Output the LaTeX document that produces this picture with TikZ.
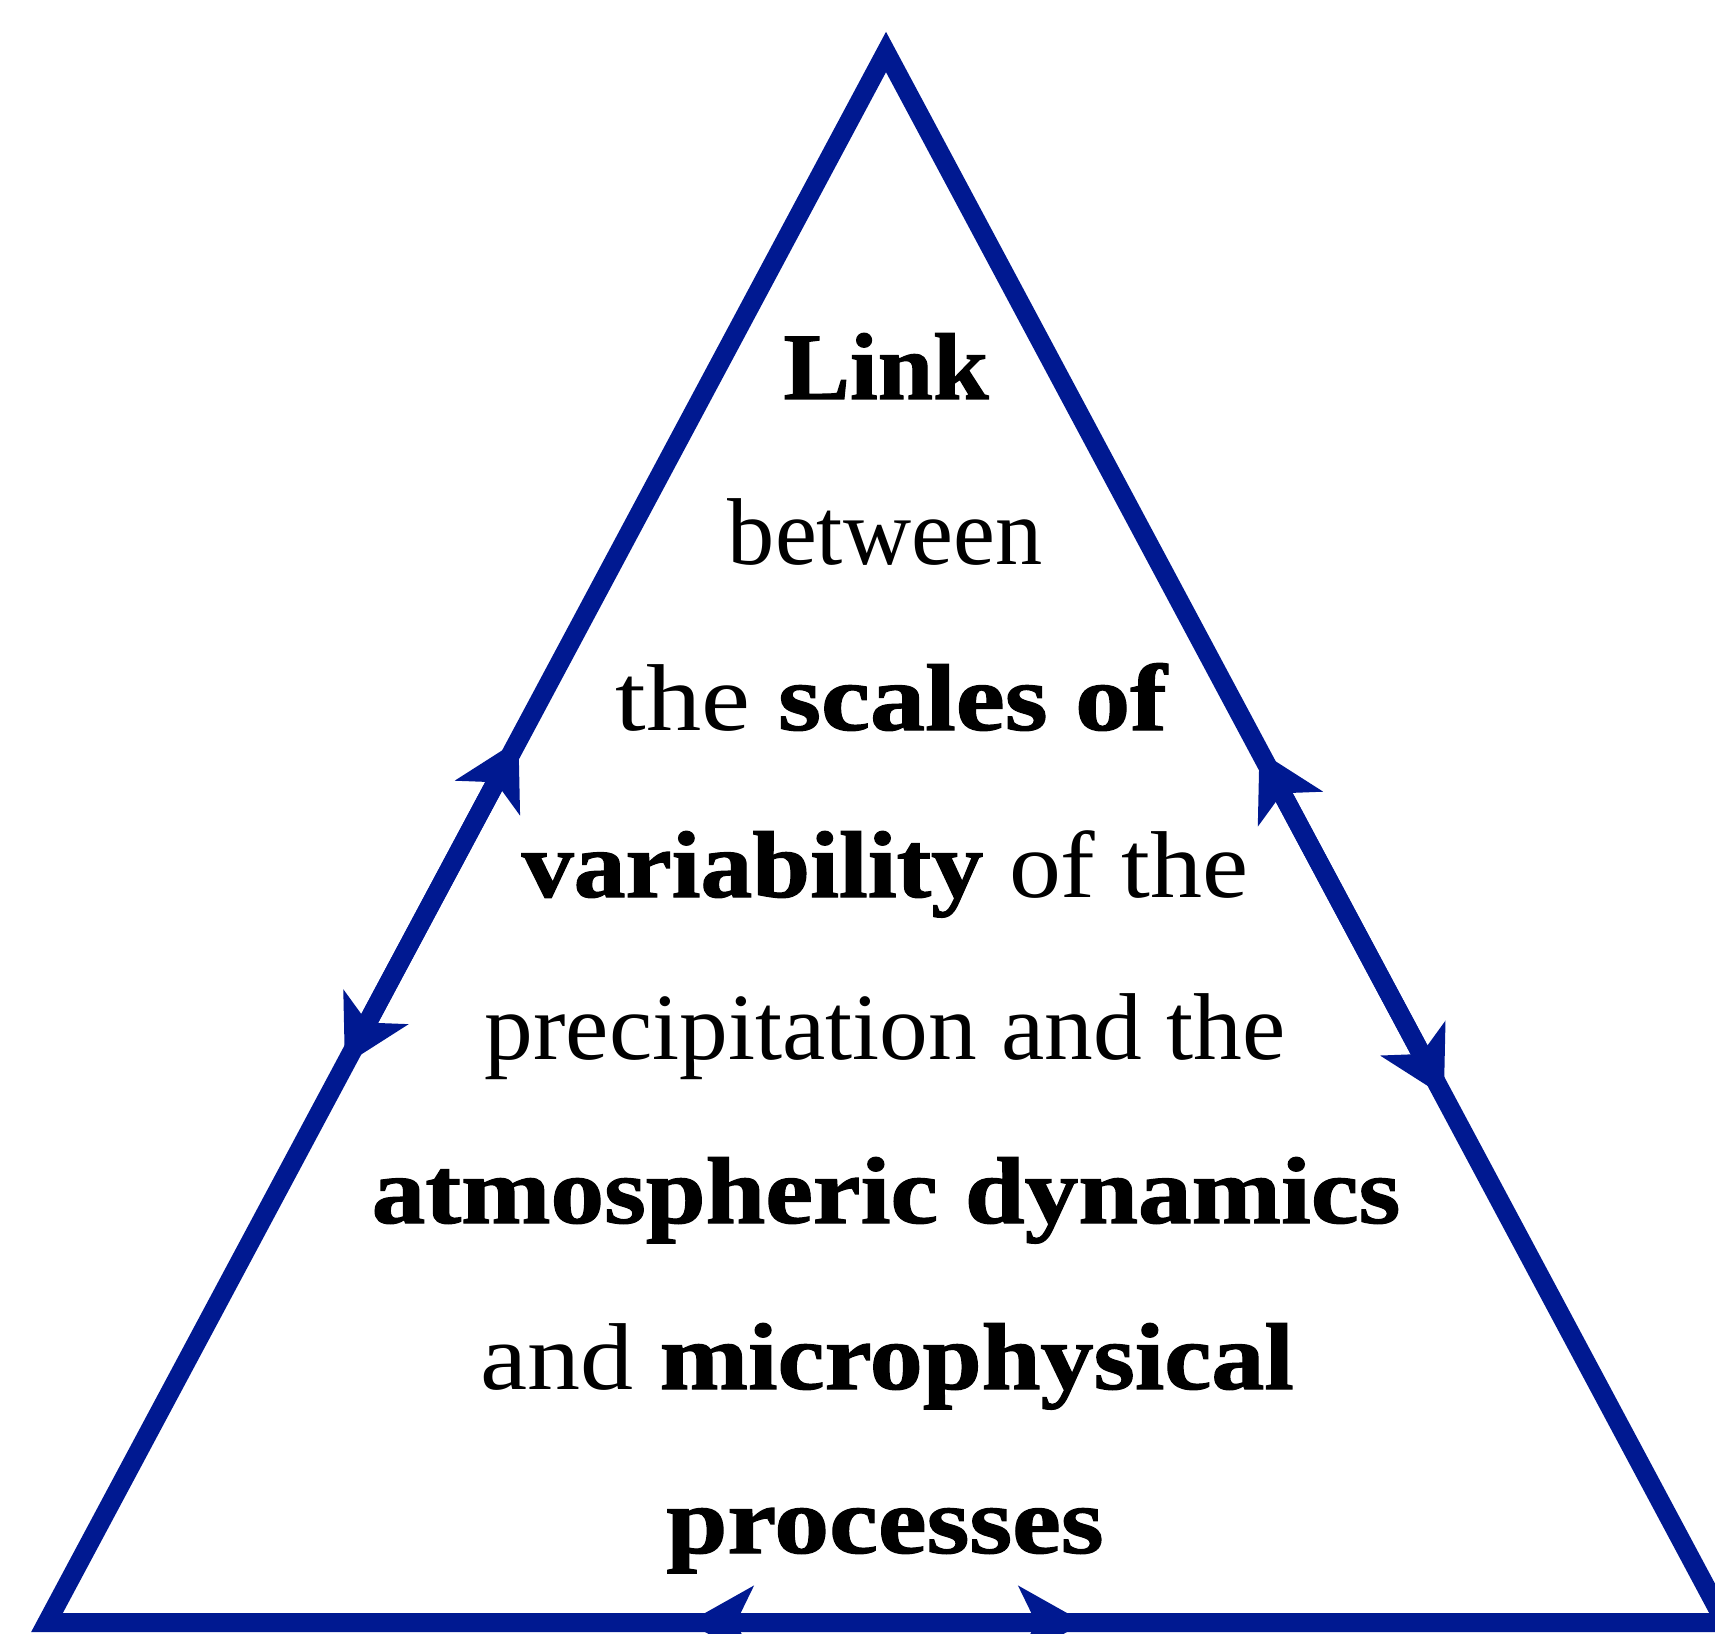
\documentclass[tikz,border=0pt]{standalone}
\usepackage{fontspec}
\setmainfont{Liberation Serif}[BoldFeatures={FakeBold=1.2}]
\usetikzlibrary{arrows.meta,calc}

\definecolor{linkblue}{RGB}{0,25,145}

\tikzset{
  side/.style={draw=linkblue, line width=0.19cm, line join=miter},
  both/.style={side, {Stealth[length=0.65cm, width=0.72cm, inset=0.17cm]}-{Stealth[length=0.65cm, width=0.72cm, inset=0.17cm]}},
  txt/.style={anchor=base, inner sep=0pt, font=\fontsize{27}{32}\selectfont}
}

% stretch a line to a given width, keep its height
\newcommand{\fitline}[2]{\resizebox{#1}{\height}{#2}}

\begin{document}
\begin{tikzpicture}[x=0.01cm, y=-0.01cm]
            \useasboundingbox (0,0) rectangle (1715,1634);
            \clip (0,0) rectangle (1715,1634);

            % Triangle
            \coordinate (top) at (886,52);
            \coordinate (bl) at (47,1622.5);
            \coordinate (br) at (1725,1622.5);
            \draw[side] (top) -- (bl) -- (br) -- cycle;

            % Two-way arrows on each side
            \draw[both] ($(top)!0.645!(bl)$) -- ($(top)!0.438!(bl)$);
            \draw[both] ($(top)!0.445!(br)$) -- ($(top)!0.665!(br)$);
            \draw[both] ($(bl)!0.382!(br)$) -- ($(bl)!0.618!(br)$);

            % Text, one line per node
            \node[txt] (link) at (886,399) {\fitline{2.05cm}{\textbf{Link}}};
            \node[txt] (betw) at (885,565) {\fitline{3.14cm}{between}};
            \node[txt] (scales) at (892,730) {\fitline{5.52cm}{the \textbf{scales of}}};
            \node[txt] (variab) at (885,897) {\fitline{7.26cm}{\textbf{variability} of the}};
            \node[txt] (precip) at (885,1059) {\fitline{8.00cm}{precipitation and the}};
            \node[txt] (atmos) at (886,1223) {\fitline{10.28cm}{\textbf{atmospheric dynamics}}};
            \node[txt] (micro) at (887,1389) {\fitline{8.13cm}{and \textbf{microphysical}}};
            \node[txt] (proc) at (885,1553) {\fitline{4.37cm}{\textbf{processes}}};
\end{tikzpicture}
\end{document}
